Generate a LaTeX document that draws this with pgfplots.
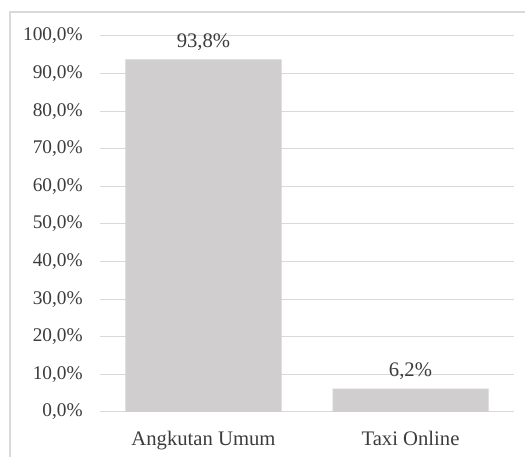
\documentclass[border=0pt]{standalone}
\usepackage{fontspec}
\setmainfont{Liberation Serif}
\usepackage{pgfplots}
\pgfplotsset{compat=1.18}
\definecolor{barg}{RGB}{208,206,206}
\definecolor{gridg}{RGB}{217,217,217}
\definecolor{txt}{RGB}{60,60,60}
\begin{document}
\begin{tikzpicture}
\clip (0pt,0pt) rectangle (393.75pt,342.75pt);
\path[use as bounding box] (0pt,0pt) rectangle (393.75pt,342.75pt);
\draw[gridg, line width=1pt] (7.5pt,-20pt) -- (7.5pt,333.75pt) -- (420pt,333.75pt);
\begin{axis}[
  at={(75pt,33.75pt)}, anchor=south west,
  scale only axis, width=310.5pt, height=282pt,
  ymin=0, ymax=100, ytick={0,10,...,100},
  xmin=-0.5, xmax=1.5, xtick={0,1},
  xticklabels={Angkutan Umum, Taxi Online},
  ybar, bar width=117pt,
  axis line style={draw=none},
  major tick length=0pt,
  ymajorgrids, grid style={gridg, line width=0.75pt},
  /pgf/number format/assume math mode=true,
  tick label style={font=\fontsize{14.5}{17}\selectfont, text=txt},
  yticklabel={\pgfmathprintnumber[fixed,fixed zerofill,precision=1,use comma]{\tick}\%},
  yticklabel style={anchor=east, inner sep=0pt, xshift=-12.75pt},
  xticklabel style={anchor=base, inner sep=0pt, yshift=-24.75pt, font=\fontsize{15.5}{18}\selectfont},
  nodes near coords={\pgfmathprintnumber[fixed,fixed zerofill,precision=1,use comma]{\pgfplotspointmeta}\%},
  every node near coord/.append style={anchor=base, yshift=9pt, font=\fontsize{15.5}{18}\selectfont, text=txt},
  clip=false,
]
\addplot[fill=barg, draw=none] coordinates {(0,93.8) (1,6.2)};
\end{axis}
\end{tikzpicture}
\end{document}
